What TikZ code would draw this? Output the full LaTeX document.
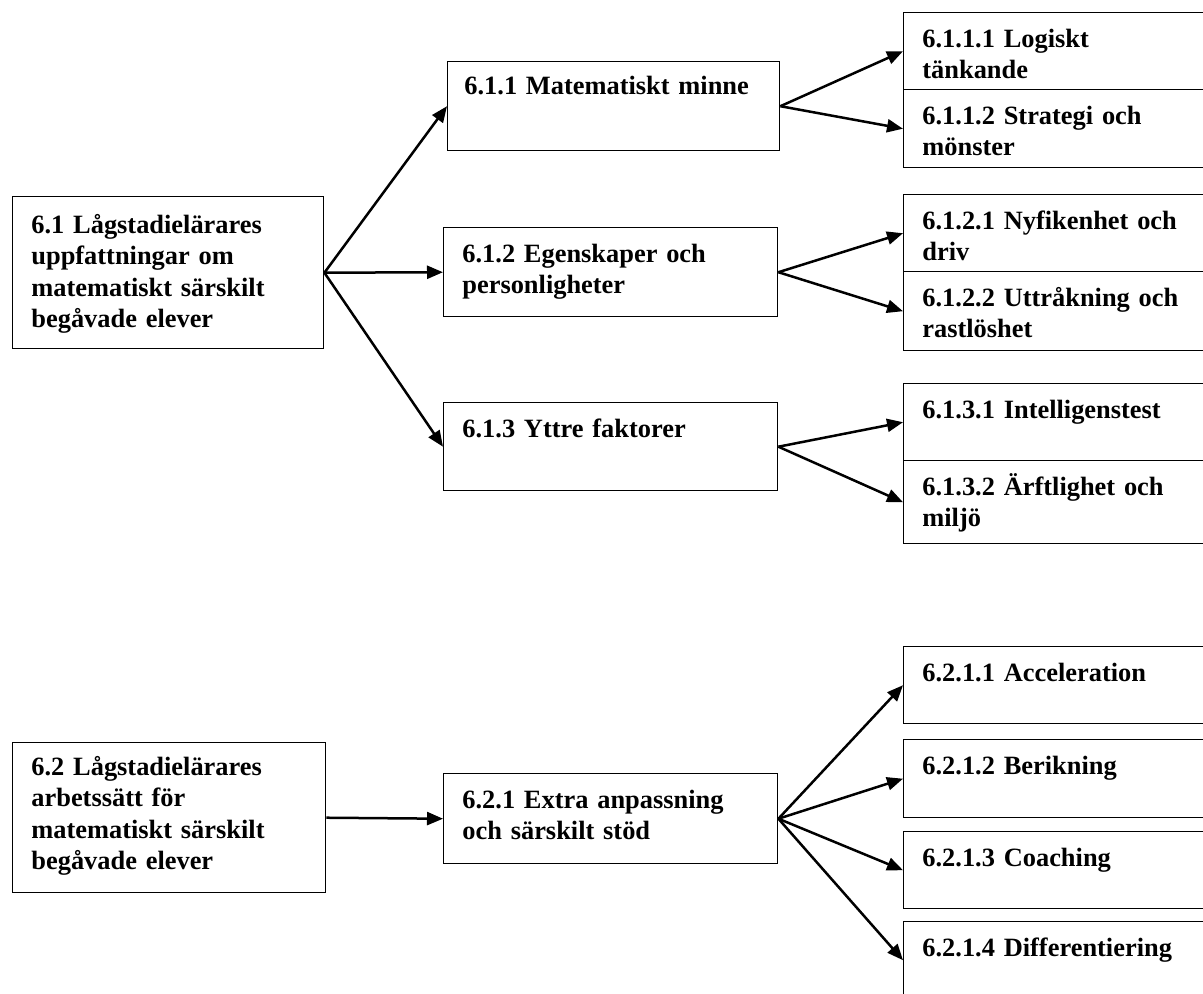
\documentclass[tikz,border=0pt]{standalone}
\usepackage{fontspec}
\setmainfont{Liberation Serif}
\usetikzlibrary{arrows.meta}
\tikzset{
  box/.style={ draw, line width=0.7pt, anchor=north west, inner sep=0pt }
}
\tikzset{
  boxtext/.style={ anchor=base west, align=left, text width=150pt, inner sep=0pt,
    font=\fontsize{13.2}{15.8}\selectfont\bfseries, xshift=9.5pt, yshift=-17.5pt }
}
\tikzset{
  pil/.style={ -{Triangle[length=8pt, width=6.5pt]}, line width=1.25pt }
}

\begin{document}
\begin{tikzpicture}[x=0.5pt, y=-0.5pt]
      \useasboundingbox (0,0) rectangle (1203,993);
      \clip (0,0) rectangle (1203,993);

      % 6.1
      \node[box, minimum width=155.5pt, minimum height=76pt,
        label={[boxtext, yshift=-1pt]north west:{6.1 Lågstadielärares\\uppfattningar om\\matematiskt särskilt\\begåvade elever}}] (p61) at (12,196) {};

      \node[box, minimum width=166pt, minimum height=44.5pt,
        label={[boxtext, xshift=-1pt, yshift=1pt]north west:{6.1.1 Matematiskt minne}}] (b611) at (447,61) {};
      \node[box, minimum width=167pt, minimum height=44.5pt,
        label={[boxtext]north west:{6.1.2 Egenskaper och\\personligheter}}] (b612) at (443,227) {};
      \node[box, minimum width=167pt, minimum height=44pt,
        label={[boxtext]north west:{6.1.3 Yttre faktorer}}] (b613) at (443,402) {};

      \node[box, minimum width=160pt, minimum height=38.5pt,
        label={[boxtext]north west:{6.1.1.1 Logiskt\\tänkande}}] (b6111) at (903,12) {};
      \node[box, minimum width=160pt, minimum height=39pt,
        label={[boxtext]north west:{6.1.1.2 Strategi och\\mönster}}] (b6112) at (903,89) {};
      \node[box, minimum width=160pt, minimum height=38.5pt,
        label={[boxtext]north west:{6.1.2.1 Nyfikenhet och\\driv}}] (b6121) at (903,194) {};
      \node[box, minimum width=160pt, minimum height=39.5pt,
        label={[boxtext]north west:{6.1.2.2 Uttråkning och\\rastlöshet}}] (b6122) at (903,271) {};
      \node[box, minimum width=160pt, minimum height=38.5pt,
        label={[boxtext]north west:{6.1.3.1 Intelligenstest}}] (b6131) at (903,383) {};
      \node[box, minimum width=160pt, minimum height=41.5pt,
        label={[boxtext]north west:{6.1.3.2 Ärftlighet och\\miljö}}] (b6132) at (903,460) {};

      % 6.2
      \node[box, minimum width=156.5pt, minimum height=75pt,
        label={[boxtext, yshift=1pt]north west:{6.2 Lågstadielärares\\arbetssätt för\\matematiskt särskilt\\begåvade elever}}] (p62) at (12,742) {};

      \node[box, minimum width=167pt, minimum height=45pt,
        label={[boxtext]north west:{6.2.1 Extra anpassning\\och särskilt stöd}}] (b621) at (443,773) {};

      \node[box, minimum width=160pt, minimum height=38.5pt,
        label={[boxtext]north west:{6.2.1.1 Acceleration}}] (b6211) at (903,646) {};
      \node[box, minimum width=160pt, minimum height=39pt,
        label={[boxtext]north west:{6.2.1.2 Berikning}}] (b6212) at (903,739) {};
      \node[box, minimum width=160pt, minimum height=38.5pt,
        label={[boxtext]north west:{6.2.1.3 Coaching}}] (b6213) at (903,831) {};
      \node[box, minimum width=160pt, minimum height=38.5pt,
        label={[boxtext]north west:{6.2.1.4 Differentiering}}] (b6214) at (903,921) {};

      \begin{scope}[pil]
        \draw (p61.east) -- (b611.west);
        \draw (p61.east) -- (b612.west);
        \draw (p61.east) -- (b613.west);

        \draw (b611.east) -- (b6111.west);
        \draw (b611.east) -- (b6112.west);
        \draw (b612.east) -- (b6121.west);
        \draw (b612.east) -- (b6122.west);
        \draw (b613.east) -- (b6131.west);
        \draw (b613.east) -- (b6132.west);

        \draw (p62.east) -- (b621.west);

        \draw (b621.east) -- (b6211.west);
        \draw (b621.east) -- (b6212.west);
        \draw (b621.east) -- (b6213.west);
        \draw (b621.east) -- (b6214.west);
      \end{scope}
    \end{tikzpicture}
\end{document}
